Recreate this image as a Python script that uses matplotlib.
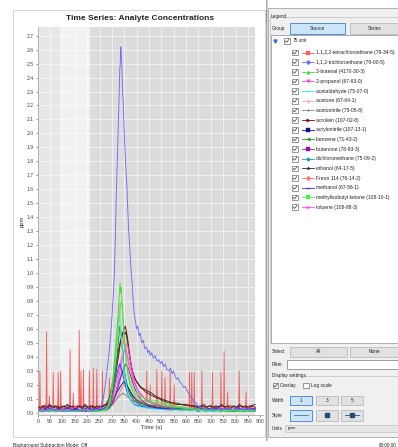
import matplotlib
matplotlib.use("Agg")
import matplotlib.pyplot as plt
from matplotlib.patches import Rectangle
from matplotlib.lines import Line2D

plt.rcParams['font.family'] = ['Liberation Sans', 'DejaVu Sans']

# ---- analyte time series, (time s, ppm) ----
tetrachloroethane = [(0, 0.03), (5, 0.04), (7, 0.03), (9, 0.30), (11, 0.03), (18, 0.05), (24, 0.03), (30, 0.06),
                     (34, 0.03), (36, 0.58), (38, 0.04), (45, 0.03), (47, 0.12), (49, 0.03), (56, 0.05), (61, 0.03),
                     (63, 0.29), (65, 0.03), (72, 0.05), (78, 0.03), (81, 0.04), (83, 0.29), (85, 0.03), (91, 0.04),
                     (93, 0.30), (95, 0.03), (104, 0.05), (112, 0.03), (120, 0.05), (129, 0.03), (131, 0.45),
                     (133, 0.03), (142, 0.04), (144, 0.14), (146, 0.03), (155, 0.05), (163, 0.03), (166, 0.04),
                     (168, 0.59), (170, 0.04), (173, 0.05), (175, 0.30), (177, 0.03), (183, 0.04), (185, 0.31),
                     (187, 0.03), (196, 0.05), (203, 0.03), (207, 0.04), (209, 0.30), (211, 0.03), (218, 0.05),
                     (223, 0.03), (225, 0.32), (227, 0.03), (233, 0.05), (237, 0.03), (239, 0.31), (241, 0.03),
                     (250, 0.04), (260, 0.03), (262, 0.30), (264, 0.04), (272, 0.06), (280, 0.05), (288, 0.10),
                     (290, 0.25), (292, 0.12), (300, 0.20), (310, 0.28), (320, 0.38), (328, 0.45), (335, 0.50),
                     (342, 0.55), (348, 0.50), (355, 0.48), (362, 0.40), (370, 0.33), (378, 0.30), (386, 0.22),
                     (395, 0.20), (405, 0.16), (415, 0.14), (425, 0.12), (435, 0.10), (439, 0.09), (441, 0.30),
                     (443, 0.09), (453, 0.08), (455, 0.20), (457, 0.08), (468, 0.07), (480, 0.07), (482, 0.31),
                     (484, 0.07), (493, 0.06), (500, 0.06), (502, 0.30), (504, 0.06), (513, 0.06), (515, 0.25),
                     (517, 0.05), (527, 0.05), (534, 0.05), (536, 0.30), (538, 0.05), (550, 0.05), (552, 0.20),
                     (554, 0.04), (570, 0.04), (590, 0.04), (605, 0.03), (612, 0.03), (614, 0.29), (616, 0.03),
                     (621, 0.03), (623, 0.29), (625, 0.03), (631, 0.03), (633, 0.29), (635, 0.03), (648, 0.04),
                     (662, 0.03), (664, 0.30), (666, 0.03), (680, 0.04), (695, 0.03), (705, 0.03), (707, 0.29),
                     (709, 0.03), (725, 0.04), (739, 0.03), (741, 0.29), (743, 0.03), (752, 0.03), (754, 0.44),
                     (756, 0.03), (766, 0.03), (768, 0.15), (770, 0.03), (785, 0.04), (800, 0.03), (813, 0.03),
                     (815, 0.30), (817, 0.03), (830, 0.04), (841, 0.03), (843, 0.15), (845, 0.03), (860, 0.04),
                     (875, 0.03), (880, 0.04)]

trichloroethane = [(0, 0.02), (15, 0.01), (30, 0.02), (45, 0.01), (60, 0.02), (75, 0.01), (90, 0.02), (105, 0.015),
                   (120, 0.01), (135, 0.02), (150, 0.01), (165, 0.02), (180, 0.015), (195, 0.02), (210, 0.01),
                   (225, 0.02), (240, 0.02), (250, 0.03), (258, 0.06), (265, 0.10), (272, 0.18), (280, 0.30),
                   (288, 0.42), (295, 0.55), (300, 0.68), (305, 0.82), (310, 1.00), (314, 1.25), (317, 1.50),
                   (321, 1.75), (325, 2.00), (329, 2.25), (332, 2.46), (334, 2.50), (336, 2.62), (338, 2.56),
                   (340, 2.50), (343, 2.30), (346, 2.22), (350, 2.00), (354, 1.85), (358, 1.70), (361, 1.62),
                   (364, 1.47), (368, 1.30), (372, 1.20), (376, 1.06), (380, 0.97), (383, 0.90), (386, 0.80),
                   (390, 0.72), (395, 0.66), (400, 0.60), (405, 0.62), (410, 0.55), (415, 0.57), (420, 0.50),
                   (427, 0.52), (433, 0.46), (440, 0.47), (445, 0.43), (450, 0.45), (455, 0.41), (461, 0.43),
                   (468, 0.39), (475, 0.41), (482, 0.37), (490, 0.38), (497, 0.35), (503, 0.37), (508, 0.33),
                   (515, 0.35), (522, 0.31), (530, 0.30), (537, 0.32), (543, 0.28), (549, 0.30), (556, 0.26),
                   (562, 0.24), (568, 0.25), (575, 0.22), (582, 0.21), (590, 0.18), (597, 0.19), (603, 0.16),
                   (610, 0.14), (617, 0.12), (625, 0.10), (632, 0.08), (640, 0.07), (648, 0.05), (656, 0.04),
                   (665, 0.04), (675, 0.03), (690, 0.02), (705, 0.03), (720, 0.02), (735, 0.03), (750, 0.02),
                   (765, 0.03), (780, 0.02), (795, 0.03), (810, 0.02), (825, 0.03), (840, 0.02), (855, 0.03),
                   (870, 0.02), (880, 0.02)]

butenal = [(0, 0.01), (40, 0.02), (80, 0.01), (120, 0.02), (160, 0.01), (200, 0.02), (240, 0.01), (270, 0.02),
           (285, 0.05), (295, 0.12), (303, 0.22), (310, 0.35), (316, 0.48), (321, 0.60), (326, 0.72), (330, 0.84),
           (333, 0.93), (335, 0.86), (338, 0.90), (341, 0.78), (344, 0.70), (348, 0.58), (352, 0.48), (356, 0.40),
           (360, 0.33), (366, 0.26), (372, 0.21), (380, 0.17), (390, 0.14), (400, 0.12), (412, 0.10), (425, 0.09),
           (440, 0.08), (455, 0.08), (470, 0.07), (490, 0.06), (510, 0.06), (530, 0.05), (560, 0.04), (600, 0.03),
           (650, 0.02), (700, 0.02), (760, 0.01), (820, 0.02), (880, 0.01)]

propanol = [(0, 0.03), (25, 0.02), (50, 0.04), (75, 0.02), (100, 0.03), (125, 0.02), (150, 0.04), (175, 0.02),
            (200, 0.03), (225, 0.02), (250, 0.03), (275, 0.03), (295, 0.06), (310, 0.12), (322, 0.20), (333, 0.30),
            (342, 0.38), (350, 0.44), (356, 0.48), (361, 0.50), (366, 0.46), (372, 0.40), (378, 0.34), (385, 0.28),
            (392, 0.22), (400, 0.18), (410, 0.14), (420, 0.12), (432, 0.10), (445, 0.08), (460, 0.07), (480, 0.06),
            (500, 0.05), (525, 0.04), (560, 0.04), (600, 0.03), (650, 0.03), (700, 0.02), (750, 0.03), (800, 0.02),
            (850, 0.03), (880, 0.02)]

acetaldehyde = [(0, 0.01), (60, 0.02), (120, 0.01), (180, 0.02), (240, 0.01), (275, 0.02), (288, 0.06), (298, 0.15),
                (306, 0.28), (313, 0.42), (319, 0.55), (324, 0.65), (328, 0.70), (332, 0.66), (336, 0.58),
                (341, 0.47), (346, 0.36), (352, 0.27), (358, 0.20), (365, 0.14), (373, 0.10), (382, 0.07),
                (395, 0.05), (420, 0.04), (460, 0.03), (520, 0.02), (600, 0.02), (700, 0.01), (800, 0.02), (880, 0.01)]

acetone = [(0, 0.02), (100, 0.01), (200, 0.02), (270, 0.02), (290, 0.06), (302, 0.15), (312, 0.30), (320, 0.48),
           (326, 0.65), (331, 0.79), (335, 0.70), (339, 0.56), (344, 0.42), (350, 0.30), (357, 0.22), (365, 0.16),
           (375, 0.12), (390, 0.08), (410, 0.06), (450, 0.04), (520, 0.03), (620, 0.02), (750, 0.02), (880, 0.01)]

acetonitrile = [(0, 0.03), (50, 0.02), (100, 0.03), (150, 0.02), (200, 0.03), (250, 0.02), (290, 0.04), (310, 0.08),
                (330, 0.12), (345, 0.14), (360, 0.12), (380, 0.09), (400, 0.07), (430, 0.05), (480, 0.04),
                (550, 0.03), (650, 0.03), (750, 0.02), (880, 0.03)]

acrolein = [(0, 0.04), (10, 0.03), (20, 0.05), (30, 0.03), (40, 0.04), (50, 0.05), (60, 0.03), (70, 0.04), (80, 0.05),
            (90, 0.03), (100, 0.04), (110, 0.05), (120, 0.03), (130, 0.05), (140, 0.04), (150, 0.03), (160, 0.05),
            (170, 0.04), (180, 0.03), (190, 0.05), (200, 0.04), (210, 0.03), (220, 0.05), (230, 0.04), (240, 0.03),
            (250, 0.05), (260, 0.04), (270, 0.05), (280, 0.06), (290, 0.08), (298, 0.12), (306, 0.18), (314, 0.26),
            (321, 0.34), (328, 0.42), (334, 0.50), (340, 0.55), (345, 0.58), (350, 0.60), (354, 0.62), (358, 0.59),
            (362, 0.55), (366, 0.50), (370, 0.44), (375, 0.38), (380, 0.32), (386, 0.28), (392, 0.25), (400, 0.22),
            (408, 0.20), (416, 0.18), (425, 0.17), (435, 0.15), (445, 0.14), (455, 0.13), (466, 0.12), (478, 0.11),
            (490, 0.10), (502, 0.09), (515, 0.08), (530, 0.07), (545, 0.07), (560, 0.06), (580, 0.06), (600, 0.05),
            (620, 0.05), (640, 0.04), (660, 0.05), (680, 0.04), (700, 0.05), (720, 0.04), (740, 0.05), (760, 0.04),
            (780, 0.05), (800, 0.04), (820, 0.05), (840, 0.04), (860, 0.05), (880, 0.04)]

acrylonitrile = [(0, 0.02), (15, 0.01), (30, 0.03), (45, 0.01), (60, 0.02), (75, 0.01), (90, 0.03), (105, 0.01),
                 (120, 0.02), (135, 0.01), (150, 0.03), (165, 0.01), (180, 0.02), (195, 0.01), (210, 0.03),
                 (225, 0.01), (240, 0.02), (260, 0.02), (280, 0.04), (300, 0.08), (318, 0.14), (335, 0.19),
                 (348, 0.22), (360, 0.20), (372, 0.16), (385, 0.12), (400, 0.09), (420, 0.07), (445, 0.05),
                 (470, 0.04), (500, 0.03), (540, 0.03), (580, 0.02), (620, 0.03), (650, 0.01), (665, 0.03),
                 (680, 0.01), (695, 0.03), (710, 0.01), (725, 0.02), (740, 0.01), (755, 0.03), (770, 0.01),
                 (785, 0.02), (800, 0.01), (815, 0.03), (830, 0.01), (845, 0.02), (860, 0.01), (880, 0.02)]

benzene = [(0, 0.01), (60, 0.02), (120, 0.01), (180, 0.02), (240, 0.01), (280, 0.02), (295, 0.06), (305, 0.14),
           (314, 0.26), (321, 0.40), (327, 0.52), (332, 0.62), (336, 0.58), (340, 0.50), (345, 0.40), (351, 0.30),
           (358, 0.22), (366, 0.16), (376, 0.12), (390, 0.09), (410, 0.07), (440, 0.06), (480, 0.05), (520, 0.04),
           (560, 0.03), (620, 0.02), (700, 0.02), (800, 0.01), (880, 0.02)]

butanone = [(0, 0.02), (40, 0.03), (80, 0.02), (120, 0.03), (160, 0.02), (200, 0.03), (240, 0.02), (280, 0.03),
            (300, 0.06), (315, 0.12), (328, 0.20), (340, 0.28), (350, 0.33), (358, 0.35), (366, 0.32), (375, 0.27),
            (385, 0.21), (396, 0.16), (408, 0.12), (420, 0.09), (435, 0.07), (455, 0.05), (480, 0.04), (520, 0.03),
            (580, 0.03), (650, 0.02), (720, 0.03), (800, 0.02), (880, 0.03)]

dichloromethane = [(0, 0.01), (80, 0.02), (160, 0.01), (240, 0.02), (290, 0.03), (305, 0.08), (318, 0.15),
                   (330, 0.23), (340, 0.29), (346, 0.30), (354, 0.26), (364, 0.19), (376, 0.13), (390, 0.09),
                   (410, 0.06), (440, 0.04), (500, 0.03), (600, 0.02), (700, 0.02), (880, 0.01)]

ethanol = [(0, 0.05), (12, 0.03), (24, 0.05), (36, 0.04), (48, 0.06), (60, 0.04), (72, 0.05), (84, 0.03), (96, 0.05),
           (108, 0.04), (120, 0.06), (132, 0.04), (144, 0.05), (156, 0.03), (168, 0.05), (180, 0.04), (192, 0.06),
           (204, 0.04), (216, 0.05), (228, 0.03), (240, 0.05), (252, 0.04), (264, 0.05), (276, 0.06), (288, 0.10),
           (297, 0.15), (305, 0.22), (313, 0.30), (320, 0.38), (327, 0.45), (333, 0.50), (339, 0.54), (344, 0.57),
           (349, 0.58), (353, 0.56), (357, 0.58), (361, 0.53), (366, 0.47), (371, 0.41), (376, 0.36), (382, 0.31),
           (388, 0.27), (395, 0.24), (402, 0.22), (410, 0.20), (420, 0.18), (430, 0.17), (440, 0.16), (450, 0.15),
           (462, 0.14), (475, 0.12), (488, 0.11), (500, 0.10), (515, 0.09), (530, 0.08), (545, 0.07), (560, 0.07),
           (580, 0.06), (600, 0.06), (620, 0.05), (640, 0.05), (660, 0.04), (672, 0.06), (684, 0.04), (696, 0.05),
           (708, 0.03), (720, 0.05), (732, 0.04), (744, 0.06), (756, 0.04), (768, 0.05), (780, 0.03), (792, 0.05),
           (804, 0.04), (816, 0.06), (828, 0.04), (840, 0.05), (852, 0.03), (864, 0.05), (880, 0.06)]

freon114 = [(0, 0.01), (100, 0.02), (200, 0.01), (280, 0.02), (300, 0.05), (320, 0.10), (335, 0.16), (350, 0.20),
            (365, 0.18), (380, 0.14), (400, 0.10), (430, 0.07), (470, 0.05), (520, 0.04), (600, 0.03), (700, 0.02),
            (880, 0.02)]

methanol = [(0, 0.03), (20, 0.01), (40, 0.04), (60, 0.02), (80, 0.03), (100, 0.01), (120, 0.04), (140, 0.02),
            (160, 0.03), (180, 0.01), (200, 0.04), (220, 0.02), (240, 0.03), (260, 0.02), (280, 0.05), (295, 0.10),
            (308, 0.18), (318, 0.26), (326, 0.32), (332, 0.35), (338, 0.32), (346, 0.26), (355, 0.19), (365, 0.13),
            (376, 0.09), (390, 0.06), (410, 0.05), (430, 0.04), (460, 0.03), (500, 0.03), (540, 0.02), (580, 0.03),
            (620, 0.02), (650, 0.04), (670, 0.02), (690, 0.03), (710, 0.01), (730, 0.04), (750, 0.02), (770, 0.03),
            (790, 0.01), (810, 0.04), (830, 0.02), (850, 0.03), (880, 0.02)]

mibk = [(0, 0.02), (50, 0.01), (100, 0.02), (150, 0.01), (200, 0.02), (250, 0.01), (280, 0.03), (292, 0.08),
        (302, 0.18), (312, 0.32), (320, 0.48), (327, 0.62), (333, 0.74), (338, 0.80), (342, 0.76), (346, 0.66),
        (350, 0.55), (355, 0.44), (360, 0.36), (366, 0.29), (373, 0.23), (381, 0.19), (390, 0.16), (400, 0.14),
        (412, 0.12), (425, 0.11), (440, 0.10), (455, 0.09), (470, 0.09), (485, 0.08), (500, 0.08), (520, 0.07),
        (540, 0.06), (560, 0.05), (585, 0.04), (620, 0.03), (680, 0.02), (750, 0.02), (820, 0.01), (880, 0.02)]

toluene = [(0, 0.02), (30, 0.01), (60, 0.02), (90, 0.01), (120, 0.02), (150, 0.01), (180, 0.02), (210, 0.01),
           (240, 0.02), (270, 0.02), (290, 0.05), (305, 0.12), (318, 0.22), (330, 0.32), (340, 0.40), (348, 0.44),
           (355, 0.46), (362, 0.42), (370, 0.36), (378, 0.30), (386, 0.25), (395, 0.20), (405, 0.16), (416, 0.13),
           (428, 0.11), (440, 0.09), (455, 0.08), (470, 0.06), (490, 0.05), (520, 0.04), (560, 0.03), (620, 0.03),
           (700, 0.02), (780, 0.02), (880, 0.02)]

# legend order
analytes = ["1,1,2,2-tetrachloroethane (79-34-5)", "1,1,2-trichloroethane (79-00-5)", "2-butenal (4170-30-3)",
            "2-propanol (67-63-0)", "acetaldehyde (75-07-0)", "acetone (67-64-1)", "acetonitrile (75-05-8)",
            "acrolein (107-02-8)", "acrylonitrile (107-13-1)", "benzene (71-43-2)", "butanone (78-93-3)",
            "dichloromethane (75-09-2)", "ethanol (64-17-5)", "Freon 114 (76-14-2)", "methanol (67-56-1)",
            "methylisobutyl ketone (108-10-1)", "toluene (108-88-3)"]
series = [tetrachloroethane, trichloroethane, butenal, propanol, acetaldehyde, acetone, acetonitrile, acrolein,
          acrylonitrile, benzene, butanone, dichloromethane, ethanol, freon114, methanol, mibk, toluene]
colors = ["#f26464", "#6e6ef4", "#3fdc3f", "#ff44dd", "#33f0e6", "#ffa8a8", "#808080", "#7a0a0a",
          "#10108a", "#1c961c", "#9a12a6", "#1aa0a0", "#2a2a2a", "#ff7070", "#3535ff", "#4cf04c", "#ff55ee"]
markers = ["s", "D", "^", "v", "_", "|", ".", ">", "s", "<", "s", "o", "*", "D", "_", "s", ">"]
draw_order = [0, 13, 5, 6, 11, 8, 10, 12, 7, 16, 3, 14, 9, 4, 15, 2, 1]

# background bands on the time axis
bands = [(0, 90, "#e7e7e7"), (90, 212, "#f1f1f1"), (212, 877, "#dcdcdc")]

yticks = [i / 10 for i in range(28)]
xticks = list(range(0, 901, 50))

W, H = 398, 447
fig = plt.figure(figsize=(W / 100, H / 100), dpi=100, facecolor="white")


def fx(x):
    return x / W


def fy(y):
    return 1 - y / H


def box(x0, y0, x1, y1, fc, ec="none", lw=0.6, z=-1):
    fig.add_artist(Rectangle((fx(x0), fy(y1)), (x1 - x0) / W, (y1 - y0) / H, transform=fig.transFigure,
                             facecolor=fc, edgecolor=ec, linewidth=lw, zorder=z))


def hline(x0, x1, y, color="#c8c8c8", lw=0.6):
    fig.add_artist(Line2D([fx(x0), fx(x1)], [fy(y), fy(y)], transform=fig.transFigure, color=color, lw=lw))


def vline(x, y0, y1, color="#c8c8c8", lw=0.6):
    fig.add_artist(Line2D([fx(x), fx(x)], [fy(y0), fy(y1)], transform=fig.transFigure, color=color, lw=lw))


def label(x, y, s, size=3.4, **kw):
    fig.text(fx(x), fy(y), s, fontsize=size, va="center", color=kw.pop("color", "#222222"), **kw)


def checkbox(x, y, checked=True):
    box(x - 2.8, y - 2.8, x + 2.8, y + 2.8, "white", "#6e6e6e", 0.5, z=2)
    if checked:
        fig.add_artist(Line2D([fx(x - 1.8), fx(x - 0.5), fx(x + 1.9)], [fy(y), fy(y + 1.4), fy(y - 1.6)],
                              transform=fig.transFigure, color="#333333", lw=0.5, zorder=3))


def button(x0, y0, x1, y1, text="", selected=False):
    if selected:
        box(x0, y0, x1, y1, "#cce4f7", "#3d84c6", 0.6, z=1)
    else:
        box(x0, y0, x1, y1, "#e1e1e1", "#b0b0b0", 0.5, z=1)
    if text:
        fig.text(fx((x0 + x1) / 2), fy((y0 + y1) / 2), text, fontsize=3.4, ha="center", va="center",
                 color="#222222")


# chart panel and control panel
box(13, 10, 265, 437, "white", "#cfcfcf", 0.6)
box(268, 8, 398, 437, "#f0f0f0", "#a8a8a8", 0.6)
vline(265.5, 0, 440, "#9a9a9a", 0.6)
vline(267, 0, 440, "#bdbdbd", 0.5)
for gy in (11, 14, 17, 20):
    fig.add_artist(Line2D([fx(265.5)], [fy(gy)], transform=fig.transFigure, marker="o", ms=0.8, mew=0,
                          color="#666666", lw=0))

# ---- main chart ----
ax = fig.add_axes([fx(37.7), fy(415), (262.7 - 37.7) / W, (415 - 27) / H])
ax.set_facecolor("white")
for t0, t1, c in bands:
    ax.axvspan(t0, t1, color=c, lw=0, zorder=0.2)
ax.set_axisbelow(True)
ax.grid(True, color="white", lw=0.5, alpha=0.75)

for i in draw_order:
    ts = [p[0] for p in series[i]]
    vs = [p[1] for p in series[i]]
    ax.plot(ts, vs, color=colors[i], lw=0.65, zorder=2 + draw_order.index(i) * 0.01)

ax.set_xlim(0, 910)
ax.set_ylim(-0.016, 2.762)
ax.set_xticks(xticks)
ax.set_yticks(yticks)
ax.set_yticklabels([f"{v:.1f}" for v in yticks])
ax.tick_params(labelsize=3.7, colors="#444444", length=1.5, width=0.4, pad=1.2)
for s in ("top", "right"):
    ax.spines[s].set_visible(False)
for s in ("left", "bottom"):
    ax.spines[s].set_color("#9a9a9a")
    ax.spines[s].set_linewidth(0.5)

fig.text(fx(140), fy(19), "Time Series: Analyte Concentrations", fontsize=6, fontweight="bold",
         ha="center", va="center", color="#222222")
fig.text(fx(152), fy(428), "Time (s)", fontsize=4.2, ha="center", va="center", color="#333333")
fig.text(fx(22), fy(221), "ppm", fontsize=4.2, ha="center", va="center", rotation=90, color="#333333")

# ---- legend panel ----
label(271, 16.5, "Legend")
hline(283, 398, 16.5)
vline(270, 16.5, 343)
label(272, 28.5, "Group")
button(290, 23, 345, 34, "Source", selected=True)
button(350, 23, 399, 34, "Series")
box(271, 35, 399, 343, "white", "#8a8f98", 0.5, z=0)

fig.add_artist(Line2D([fx(275)], [fy(41)], transform=fig.transFigure, marker="v", ms=2.2,
                      color="#3b6fd4", lw=0, zorder=3))
checkbox(287, 41)
label(293, 41, "75.xml")

row0, row_step = 52.5, 9.66
for i, name in enumerate(analytes):
    ry = row0 + i * row_step
    checkbox(295, ry)
    fig.add_artist(Line2D([fx(302), fx(314)], [fy(ry), fy(ry)], transform=fig.transFigure,
                          color=colors[i], lw=0.6, zorder=3))
    fig.add_artist(Line2D([fx(308)], [fy(ry)], transform=fig.transFigure, marker=markers[i], ms=2.4,
                          mew=1.0 if markers[i] in "_|" else 0.3, color=colors[i], lw=0, zorder=4))
    label(316, ry, name, size=3.6)

# ---- controls ----
label(272, 351.5, "Select")
button(290, 346.5, 347, 356.5, "All")
button(350, 346.5, 399, 356.5, "None")
label(272, 364.5, "Filter")
box(287, 360, 399, 368.5, "white", "#7a7a7a", 0.5, z=0)
label(272, 375.5, "Display settings")
hline(304, 398, 375.5)
checkbox(275.5, 385.5)
label(280, 385.5, "Overlay")
checkbox(306, 385.5, checked=False)
label(311, 385.5, "Log scale")
label(272, 400, "Width")
button(290, 395.5, 311.5, 404.5, "1", selected=True)
button(316, 395.5, 338, 404.5, "3")
button(341, 395.5, 363, 404.5, "5")
label(272, 415, "Style")
button(290, 410, 311.5, 420.5, selected=True)
button(316, 410, 338, 420.5)
button(341, 410, 363, 420.5)
fig.add_artist(Line2D([fx(294), fx(307.5)], [fy(415.2), fy(415.2)], transform=fig.transFigure,
                      color="#2d5f9a", lw=0.5, zorder=3))
fig.add_artist(Line2D([fx(327)], [fy(415.2)], transform=fig.transFigure, marker="s", ms=2.2,
                      color="#1f4e79", lw=0, zorder=3))
fig.add_artist(Line2D([fx(345), fx(352), fx(359)], [fy(415.2)] * 3, transform=fig.transFigure,
                      color="#1f4e79", lw=0.6, marker="s", ms=2.2, markevery=[1], zorder=3))
label(272, 428.5, "Units")
box(285, 425, 399, 432, "#e6e6e6", "#c4c4c4", 0.5, z=0)
label(288, 428.5, "ppm", size=3.2)

# status bar
label(13, 445.5, "Background Subtraction Mode: Off", size=3.4)
label(379, 445.5, "00:00:00", size=3.4)

fig.savefig("out.png", dpi=100, facecolor="white")
